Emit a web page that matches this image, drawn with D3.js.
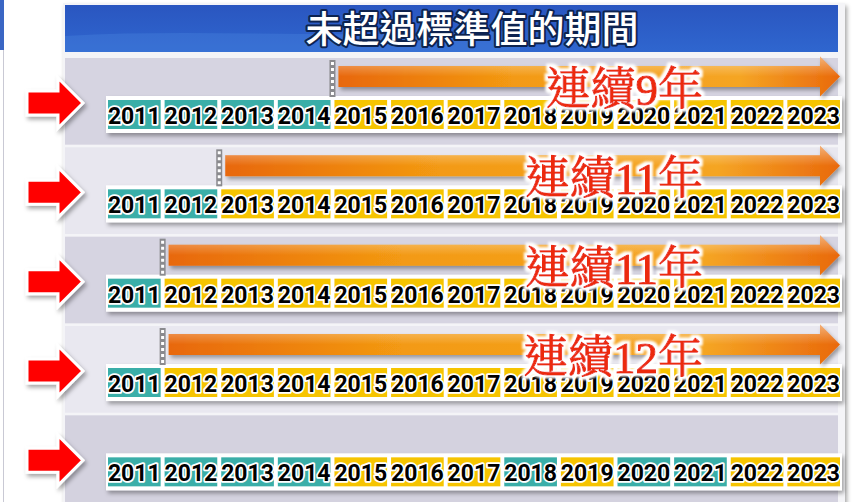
<!DOCTYPE html>
<html>
<head>
<meta charset="utf-8">
<script src="https://cdn.jsdelivr.net/npm/d3@7"></script>
<style>
  body { margin: 0; background: #fff; }
  svg { display: block; }
</style>
</head>
<body>
<div id="chart"></div>
<script>
// years on the timeline
var years = [2011, 2012, 2013, 2014, 2015, 2016, 2017, 2018, 2019, 2020, 2021, 2022, 2023];
// which years exceeded (teal) per row; the rest are yellow
var exceeded = [
  [2011, 2012, 2013, 2014],
  [2011, 2012],
  [2011],
  [2011],
  [2011, 2012, 2013, 2014, 2018, 2020, 2021]
];
// first year of the run (null = no arrow)
var runStart = [2015, 2013, 2012, 2012, null];
var runLabel = ["連續9年", "連續11年", "連續11年", "連續12年", ""];
var title = "未超過標準值的期間";

var W = 853, H = 502;
var svg = d3.select("#chart").append("svg").attr("width", W).attr("height", H);
var defs = svg.append("defs");

var f = defs.append("filter").attr("id", "shadow").attr("x", "-10%").attr("y", "-30%").attr("width", "130%").attr("height", "180%");
f.append("feDropShadow").attr("dx", 2).attr("dy", 3).attr("stdDeviation", 2).attr("flood-color", "#000").attr("flood-opacity", 0.35);

// white glow round the red labels
var glow = defs.append("filter").attr("id", "glow").attr("x", "-10%").attr("y", "-20%").attr("width", "120%").attr("height", "140%");
glow.append("feMorphology").attr("in", "SourceAlpha").attr("operator", "dilate").attr("radius", 2.5).attr("result", "fat");
glow.append("feGaussianBlur").attr("in", "fat").attr("stdDeviation", 0.8).attr("result", "soft");
glow.append("feFlood").attr("flood-color", "#fff");
glow.append("feComposite").attr("in2", "soft").attr("operator", "in").attr("result", "white");
var gm = glow.append("feMerge");
gm.append("feMergeNode").attr("in", "white");
gm.append("feMergeNode").attr("in", "SourceGraphic");

var gBlue = defs.append("linearGradient").attr("id", "blue").attr("x1", 0).attr("y1", 0).attr("x2", 0).attr("y2", 1);
gBlue.append("stop").attr("offset", "0%").attr("stop-color", "#2a56c0");
gBlue.append("stop").attr("offset", "100%").attr("stop-color", "#2f66cf");

var gOr = defs.append("linearGradient").attr("id", "orange").attr("x1", 0).attr("y1", 0).attr("x2", 1).attr("y2", 0);
gOr.append("stop").attr("offset", "0%").attr("stop-color", "#e8680a");
gOr.append("stop").attr("offset", "35%").attr("stop-color", "#f39a12");
gOr.append("stop").attr("offset", "80%").attr("stop-color", "#f5a524");
gOr.append("stop").attr("offset", "100%").attr("stop-color", "#e9690c");
var gHi = defs.append("linearGradient").attr("id", "hi").attr("x1", 0).attr("y1", 0).attr("x2", 0).attr("y2", 1);
gHi.append("stop").attr("offset", "0%").attr("stop-color", "#fff").attr("stop-opacity", 0.45);
gHi.append("stop").attr("offset", "50%").attr("stop-color", "#fff").attr("stop-opacity", 0);

// scales
var x = d3.scaleBand().domain(years).range([108, 840]).paddingInner(0.07);
var y = d3.scaleBand().domain(d3.range(exceeded.length)).range([58, 502]).paddingInner(0.03);

// left edge decoration
svg.append("rect").attr("x", 0).attr("y", 0).attr("width", 4).attr("height", 50).attr("fill", "#3a66c4");
svg.append("line").attr("x1", 3.5).attr("x2", 3.5).attr("y1", 50).attr("y2", H).attr("stroke", "#c9c9d4");

// panel
svg.append("rect").attr("x", 63).attr("y", 3).attr("width", 782).attr("height", H).attr("fill", "#f4f4f7")
  .attr("filter", "url(#shadow)");

// header
svg.append("rect").attr("x", 65).attr("y", 5).attr("width", 773).attr("height", 47).attr("fill", "url(#blue)");
svg.append("path").attr("d", "M65,36 C200,28 350,40 520,30 L520,52 L65,52 Z").attr("fill", "#4a86e0").attr("opacity", 0.35);
svg.append("text").attr("x", 472).attr("y", 43).attr("text-anchor", "middle")
  .attr("font-family", "'Noto Sans CJK TC', sans-serif").attr("font-size", 37).attr("font-weight", 500)
  .attr("fill", "#fff").attr("stroke", "#0d2350").attr("stroke-width", 4).attr("paint-order", "stroke")
  .attr("stroke-linejoin", "round").text(title);

var rowFill = ["#d6d4e1", "#e8e7ef", "#d6d4e1", "#e9e8f0", "#d4d2df"];

var rows = svg.selectAll("g.row").data(exceeded).enter().append("g")
  .attr("class", "row")
  .attr("transform", function(d, i) { return "translate(0," + y(i) + ")"; });

rows.append("rect").attr("x", 65).attr("y", 0).attr("width", 773).attr("height", y.bandwidth())
  .attr("fill", function(d, i) { return rowFill[i]; });

// red pointer arrow on the left
rows.append("path")
  .attr("d", "M27,33 L58,33 L58,20 L83,45 L58,70 L58,57 L27,57 Z")
  .attr("fill", "#ff0000").attr("stroke", "#fff").attr("stroke-width", 3).attr("stroke-linejoin", "miter")
  .attr("filter", "url(#shadow)");

// white strip behind cells
rows.append("rect").attr("x", 106).attr("y", 38).attr("width", 736).attr("height", 37)
  .attr("fill", "#fff").attr("filter", "url(#shadow)");

// cells
rows.selectAll("rect.cell").data(function(d) {
    return years.map(function(yr) { return {year: yr, teal: d.indexOf(yr) >= 0}; });
  }).enter().append("rect")
  .attr("class", "cell")
  .attr("x", function(d) { return x(d.year); })
  .attr("y", 42)
  .attr("width", x.bandwidth())
  .attr("height", 29)
  .attr("fill", function(d) { return d.teal ? "#3aaea8" : "#f6c400"; });

rows.selectAll("text.yr").data(years).enter().append("text")
  .attr("class", "yr")
  .attr("x", function(d) { return x(d) + x.bandwidth() / 2; })
  .attr("y", 66)
  .attr("text-anchor", "middle")
  .attr("font-family", "Roboto, sans-serif").attr("font-weight", 700).attr("font-size", 23)
  .attr("fill", "#000").attr("stroke", "#fff").attr("stroke-width", 3.5).attr("paint-order", "stroke")
  .attr("stroke-linejoin", "round")
  .text(function(d) { return d; });

// run arrows
var runs = rows.filter(function(d, i) { return runStart[i] !== null; });

runs.each(function(d, i) {
  var g = d3.select(this);
  var idx = exceeded.indexOf(d);
  var sx = x(runStart[idx]) - (x.step() - x.bandwidth()) / 2;
  var tip = 840, head = 820, top = 8, bot = 29, mid = (top + bot) / 2;
  var arrow = "M" + (sx + 6) + "," + top + " L" + head + "," + top + " L" + head + "," + (mid - 20) +
    " L" + tip + "," + mid + " L" + head + "," + (mid + 20) + " L" + head + "," + bot +
    " L" + (sx + 6) + "," + bot + " Z";
  g.append("path").attr("d", arrow).attr("fill", "url(#orange)").attr("filter", "url(#shadow)");
  g.append("path").attr("d", arrow).attr("fill", "url(#hi)");
  // dashed start marker
  g.append("rect").attr("x", sx - 3).attr("y", 2).attr("width", 6).attr("height", 37).attr("fill", "#8a8a8e");
  g.append("line").attr("x1", sx).attr("x2", sx).attr("y1", 4).attr("y2", 38)
    .attr("stroke", "#fff").attr("stroke-width", 3).attr("stroke-dasharray", "3,3");
  // label
  g.append("text").attr("x", 703).attr("y", 47).attr("text-anchor", "end")
    .attr("font-family", "'Liberation Serif', 'Noto Serif CJK TC', 'Noto Sans CJK TC', serif")
    .attr("font-size", 45)
    .attr("fill", "#ec2a10").attr("stroke", "#ec2a10").attr("stroke-width", 1)
    .attr("filter", "url(#glow)")
    .text(runLabel[idx]);
});
</script>
</body>
</html>
